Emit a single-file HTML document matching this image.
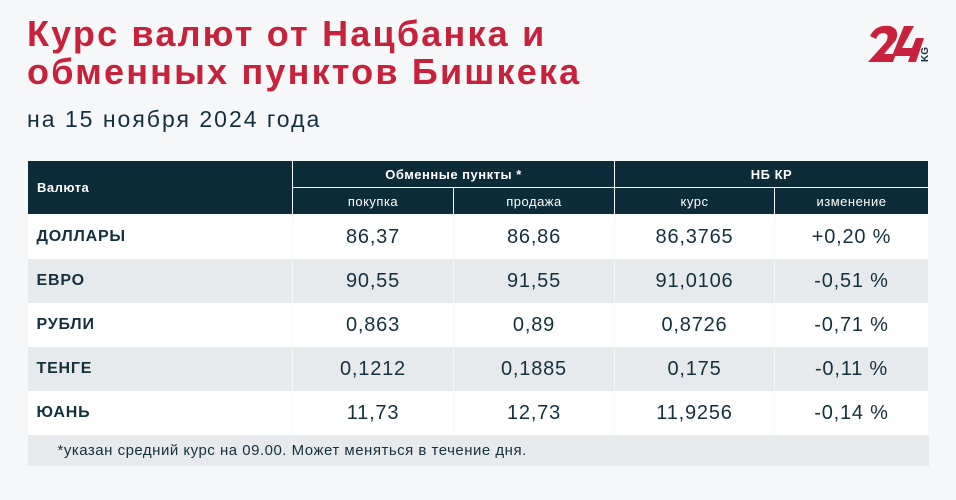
<!DOCTYPE html>
<html><head><meta charset="utf-8"><style>
body{margin:0;width:956px;height:500px;background:#f5f7f9;font-family:"Liberation Sans","DejaVu Sans",sans-serif;position:relative;overflow:hidden;color:#14303c}
h1{position:absolute;left:27px;top:15px;margin:0;font-size:36px;line-height:38px;color:#c8213c;font-weight:bold;letter-spacing:2.2px;white-space:nowrap}
.sub{position:absolute;left:27px;top:106px;font-size:23px;color:#14303c;letter-spacing:2px}
table{position:absolute;left:27px;top:160px;border-collapse:collapse;width:902px}
td,th{padding:0;text-align:center}
.h th{background:#0d2c3a;color:#fff;font-size:13px;border:1.5px solid #f5f7f9;letter-spacing:0.5px}
.h1 th{height:26px;font-weight:bold}
.h2 th{height:26px;font-weight:normal}
tr.r td{height:44px;font-size:20px;letter-spacing:0.8px;border-left:1.5px solid #f5f7f9;border-right:1.5px solid #f5f7f9}
tr.r td:first-child{text-align:left;padding-left:9px;font-weight:bold;font-size:16px;border-left:none}
tr.w td{background:#fff}
tr.g td{background:#e7eaec}
.foot td{background:#e7eaec;height:31px;text-align:left;padding-left:30px;font-size:15px;letter-spacing:0.5px}
</style></head><body>
<h1>Курс валют от Нацбанка и<br>обменных пунктов Бишкека</h1>
<div class="sub">на 15 ноября 2024 года</div>
<svg style="position:absolute;left:866px;top:22px" width="70" height="48" viewBox="0 0 70 48">
<path d="M4 14 Q10 2 24 4 Q34 7 30 18 L18 32 L30 32 L27 40 L2 40 L20 20 Q24 12 18 11 Q12 11 10 17 Z" fill="#c8213c"/>
<path d="M38 4 L48 4 L36 26 L46 26 L50 16 L58 16 L50 40 L42 40 L44 34 L26 34 Z" fill="#c8213c"/>
<text x="62" y="40" font-size="10" font-weight="bold" fill="#14303c" transform="rotate(-90 62 40)" font-family="Liberation Sans">KG</text>
</svg>
<table>
<tr class="h h1"><th rowspan="2" style="text-align:left;padding-left:9px;width:255px">Валюта</th><th colspan="2">Обменные пункты *</th><th colspan="2">НБ КР</th></tr>
<tr class="h h2"><th style="width:160px">покупка</th><th style="width:160px">продажа</th><th style="width:159px">курс</th><th>изменение</th></tr>
<tr class="r w"><td>ДОЛЛАРЫ</td><td>86,37</td><td>86,86</td><td>86,3765</td><td>+0,20 %</td></tr>
<tr class="r g"><td>ЕВРО</td><td>90,55</td><td>91,55</td><td>91,0106</td><td>-0,51 %</td></tr>
<tr class="r w"><td>РУБЛИ</td><td>0,863</td><td>0,89</td><td>0,8726</td><td>-0,71 %</td></tr>
<tr class="r g"><td>ТЕНГЕ</td><td>0,1212</td><td>0,1885</td><td>0,175</td><td>-0,11 %</td></tr>
<tr class="r w"><td>ЮАНЬ</td><td>11,73</td><td>12,73</td><td>11,9256</td><td>-0,14 %</td></tr>
<tr class="foot"><td colspan="5">*указан средний курс на 09.00. Может меняться в течение дня.</td></tr>
</table>
</body></html>
